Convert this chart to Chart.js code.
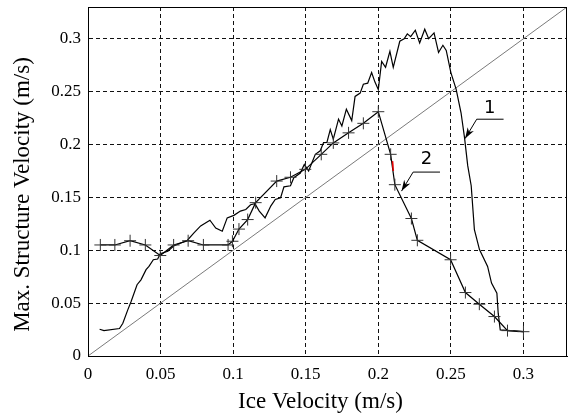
<!DOCTYPE html>
<html><head><meta charset="utf-8">
<script src="https://cdn.jsdelivr.net/npm/chart.js@4.4.1/dist/chart.umd.min.js"></script>
<style>html,body{margin:0;padding:0;background:#fff}#wrap{width:574px;height:415px;position:relative}</style>
</head><body><div id="wrap"><canvas id="c"></canvas></div>
<script>
// ---- data ----
const xTickValues = [0, 0.05, 0.1, 0.15, 0.2, 0.25, 0.3];
const yTickValues = [0, 0.05, 0.1, 0.15, 0.2, 0.25, 0.3];
const axisMax = 0.33;
const xTitle = 'Ice Velocity (m/s)';
const yTitle = 'Max. Structure Velocity (m/s)';

const curve1X = [0.008,0.011,0.0217,0.024,0.0274,0.0297,0.0338,0.0365,0.040,0.042,0.045,0.048,0.0498,0.055,0.059,0.0685,0.073,0.0776,0.084,0.088,0.0925,0.0959,0.1005,0.105,0.1087,0.112,0.115,0.118,0.122,0.126,0.129,0.1327,0.135,0.1395,0.1418,0.1463,0.149,0.152,0.1566,0.160,0.1623,0.1646,0.1669,0.169,0.1726,0.1749,0.178,0.1817,0.184,0.1875,0.1897,0.1927,0.1954,0.1977,0.200,0.2023,0.205,0.208,0.2103,0.2148,0.2178,0.220,0.2223,0.2255,0.2285,0.232,0.2347,0.2384,0.2415,0.2445,0.2468,0.250,0.2536,0.257,0.2594,0.2616,0.264,0.2662,0.2697,0.2753,0.278,0.2817,0.2826,0.284,0.300];
const curve1Y = [0.0253,0.024,0.026,0.031,0.0436,0.0516,0.0674,0.072,0.0816,0.0847,0.091,0.0917,0.0968,0.099,0.104,0.1095,0.1164,0.123,0.1284,0.121,0.118,0.1306,0.133,0.137,0.1385,0.143,0.144,0.137,0.1306,0.142,0.148,0.1496,0.160,0.161,0.1686,0.173,0.181,0.175,0.1907,0.194,0.2018,0.202,0.214,0.205,0.224,0.2175,0.2334,0.2226,0.2454,0.2486,0.257,0.258,0.268,0.259,0.252,0.2786,0.273,0.288,0.273,0.2976,0.300,0.3046,0.302,0.308,0.296,0.309,0.300,0.3055,0.287,0.2938,0.289,0.268,0.2524,0.230,0.2065,0.180,0.161,0.1195,0.1006,0.0847,0.069,0.0594,0.0405,0.0247,0.023];

const curve2X = [0.0085,0.0185,0.029,0.0395,0.0498,0.059,0.069,0.0795,0.0965,0.0995,0.104,0.110,0.1155,0.130,0.1395,0.1497,0.1607,0.169,0.1795,0.1897,0.2,0.2085,0.2114,0.2228,0.2269,0.2498,0.260,0.2696,0.280,0.289,0.300];
const curve2Y = [0.105,0.105,0.109,0.105,0.095,0.105,0.109,0.105,0.105,0.1085,0.120,0.129,0.145,0.1654,0.169,0.1765,0.1907,0.2015,0.211,0.220,0.231,0.1907,0.162,0.130,0.1094,0.091,0.060,0.049,0.0373,0.024,0.023];

const diagX = [0, 0.33];
const diagY = [0, 0.33];
const redX = [0.2098, 0.2103];
const redY = [0.1843, 0.1749];

const calloutLabels = ['1', '2'];

// ---- annotation geometry (data units) ----
const callouts = [
  {text: calloutLabels[0], tx: 0.2767, ty: 0.2343, ux1: 0.2678, ux2: 0.2863, uy: 0.2239, ax: 0.2598, ay: 0.2056},
  {text: calloutLabels[1], tx: 0.2332, ty: 0.186, ux1: 0.224, ux2: 0.2425, uy: 0.1739, ax: 0.216, ay: 0.1559}
];

const pts = (xs, ys) => xs.map((x, i) => ({x, y: ys[i]}));
const serif = '"Liberation Serif", "Times New Roman", serif';

const framePlugin = {
  id: 'frame',
  afterDatasetsDraw(chart) {
    const {ctx, chartArea: a, scales: {x, y}} = chart;
    ctx.save();
    ctx.strokeStyle = '#000';
    ctx.lineWidth = 1;
    ctx.setLineDash([]);
    ctx.strokeRect(Math.round(a.left) + 0.5, Math.round(a.top) + 0.5, Math.round(a.right - a.left) - 1, Math.round(a.bottom - a.top));
    // callouts
    ctx.fillStyle = '#000';
    callouts.forEach(c => {
      const ux1 = x.getPixelForValue(c.ux1), ux2 = x.getPixelForValue(c.ux2), uy = y.getPixelForValue(c.uy);
      const ax = x.getPixelForValue(c.ax), ay = y.getPixelForValue(c.ay);
      ctx.beginPath();
      ctx.moveTo(ux2, uy); ctx.lineTo(ux1, uy); ctx.lineTo(ax, ay);
      ctx.stroke();
      const ang = Math.atan2(ay - uy, ax - ux1);
      const L = 11, W = 3.6;
      const bx = ax - L * Math.cos(ang), by = ay - L * Math.sin(ang);
      const nx = ax - 0.7 * L * Math.cos(ang), ny = ay - 0.7 * L * Math.sin(ang);
      const px = -Math.sin(ang), py = Math.cos(ang);
      ctx.beginPath();
      ctx.moveTo(ax, ay);
      ctx.lineTo(bx + W * px, by + W * py);
      ctx.lineTo(nx, ny);
      ctx.lineTo(bx - W * px, by - W * py);
      ctx.closePath();
      ctx.fill();
      ctx.font = '18px "DejaVu Sans"';
      ctx.textAlign = 'center';
      ctx.textBaseline = 'middle';
      ctx.fillText(c.text, x.getPixelForValue(c.tx), y.getPixelForValue(c.ty));
    });
    // axis titles
    ctx.font = '23px ' + serif;
    ctx.textAlign = 'center';
    ctx.textBaseline = 'middle';
    ctx.fillText(xTitle, (a.left + a.right) / 2 - 7, chart.height - 13);
    ctx.translate(23, (a.top + a.bottom) / 2 + 13);
    ctx.rotate(-Math.PI / 2);
    ctx.fillText(yTitle, 0, 0);
    ctx.restore();
  }
};

const gridOpts = {color: '#111', lineWidth: 1, drawTicks: false};
const tickFont = {family: serif, size: 17};
const fmt = v => String(+v.toFixed(2));
const zeroPad = s => { s.paddingTop = 0; s.paddingBottom = 0; s.paddingLeft = 0; s.paddingRight = 0; };

new Chart(document.getElementById('c'), {
  type: 'scatter',
  data: {
    datasets: [
      {data: pts(diagX, diagY), showLine: true, borderColor: '#7a7a7a', borderWidth: 1, pointRadius: 0, order: 4},
      {data: pts(curve1X, curve1Y), showLine: true, borderColor: '#000', borderWidth: 1.2, pointRadius: 0, order: 3},
      {data: pts(curve2X, curve2Y), showLine: true, borderColor: '#000', borderWidth: 1.2, pointStyle: 'cross', pointRadius: 6, pointBorderColor: '#333', pointBorderWidth: 1, pointHoverRadius: 6, order: 2},
      {data: pts(redX, redY), showLine: true, borderColor: '#e00000', borderWidth: 1.6, pointRadius: 0, order: 1}
    ]
  },
  options: {
    responsive: true,
    maintainAspectRatio: false,
    animation: false,
    events: [],
    layout: {padding: {top: 7, right: 4, left: 0, bottom: 0}},
    plugins: {legend: {display: false}, tooltip: {enabled: false}},
    scales: {
      x: {
        type: 'linear', min: 0, max: axisMax,
        afterBuildTicks: s => { s.ticks = xTickValues.map(v => ({value: v})); },
        afterFit: s => { s.height = 59; zeroPad(s); },
        grid: gridOpts,
        border: {display: true, color: '#000', dash: [4, 3]},
        ticks: {font: tickFont, color: '#000', padding: 8, maxRotation: 0, callback: fmt},
        title: {display: false, text: xTitle}
      },
      y: {
        type: 'linear', min: 0, max: axisMax,
        afterBuildTicks: s => { s.ticks = yTickValues.map(v => ({value: v})); },
        afterFit: s => { s.width = 88; zeroPad(s); },
        grid: gridOpts,
        border: {display: true, color: '#000', dash: [4, 3]},
        ticks: {font: tickFont, color: '#000', padding: 7, callback: fmt},
        title: {display: false, text: yTitle}
      }
    }
  },
  plugins: [framePlugin]
});
</script>
</body></html>
